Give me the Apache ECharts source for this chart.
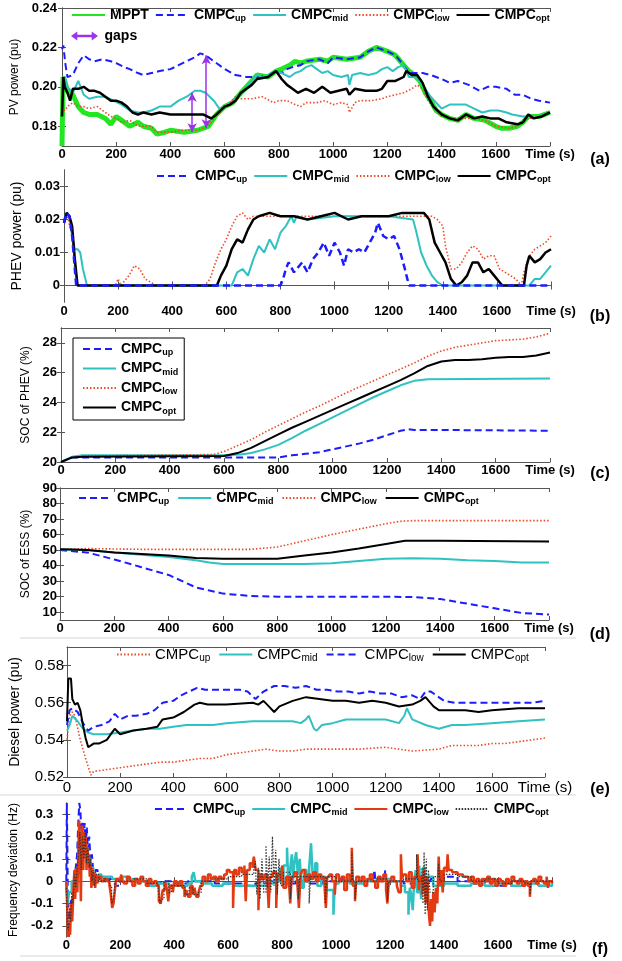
<!DOCTYPE html>
<html>
<head>
<meta charset="utf-8">
<script src="https://cdn.jsdelivr.net/npm/echarts@6/dist/echarts.min.js"></script>
<style>
  html, body { margin: 0; background: #fff; }
  #chart { width: 622px; height: 961px; }
</style>
</head>
<body>
<div id="chart"></div>
<script>
// ---- data: [time (s), value] ----
// (a) PV power (pu)
const pvMppt = [[0,0.170],[4,0.205],[10,0.203],[20,0.198],[40,0.196],[60,0.190],[80,0.187],[100,0.186],[130,0.186],[160,0.184],[180,0.181],[200,0.185],[220,0.183],[250,0.180],[280,0.182],[300,0.180],[330,0.179],[350,0.176],[380,0.177],[400,0.178],[450,0.177],[500,0.178],[540,0.180],[570,0.186],[600,0.190],[630,0.192],[660,0.197],[700,0.203],[720,0.206],[760,0.205],[790,0.208],[810,0.209],[840,0.211],[860,0.213],[880,0.212],[900,0.213],[950,0.214],[980,0.213],[1000,0.215],[1050,0.214],[1100,0.215],[1130,0.218],[1160,0.220],[1200,0.218],[1230,0.216],[1260,0.211],[1280,0.208],[1300,0.206],[1320,0.203],[1340,0.197],[1360,0.193],[1380,0.188],[1400,0.186],[1430,0.184],[1460,0.183],[1490,0.186],[1520,0.184],[1560,0.183],[1600,0.180],[1620,0.179],[1650,0.179],[1680,0.180],[1700,0.182],[1720,0.185],[1760,0.185],[1800,0.187]];
const pvUp = [[0,0.219],[5,0.221],[12,0.212],[20,0.205],[40,0.206],[60,0.212],[80,0.216],[100,0.214],[120,0.213],[150,0.214],[180,0.213],[200,0.212],[230,0.210],[250,0.209],[280,0.207],[300,0.206],[330,0.207],[360,0.208],[400,0.209],[430,0.211],[460,0.213],[490,0.215],[510,0.217],[530,0.216],[560,0.213],[600,0.209],[640,0.206],[680,0.205],[720,0.205],[760,0.206],[790,0.208],[810,0.207],[830,0.209],[850,0.210],[880,0.211],[900,0.213],[950,0.214],[980,0.212],[1000,0.215],[1050,0.214],[1100,0.215],[1130,0.218],[1160,0.220],[1200,0.218],[1230,0.216],[1260,0.211],[1280,0.207],[1300,0.207],[1330,0.207],[1360,0.206],[1400,0.204],[1430,0.202],[1460,0.203],[1500,0.201],[1540,0.198],[1570,0.200],[1600,0.200],[1640,0.199],[1670,0.196],[1700,0.196],[1730,0.194],[1760,0.193],[1800,0.192]];
const pvMid = [[0,0.196],[10,0.205],[20,0.200],[40,0.197],[60,0.203],[80,0.196],[100,0.194],[130,0.195],[160,0.195],[190,0.193],[220,0.191],[250,0.188],[280,0.187],[300,0.187],[330,0.188],[360,0.190],[400,0.190],[430,0.193],[460,0.195],[490,0.198],[510,0.198],[530,0.197],[560,0.193],[580,0.189],[600,0.190],[620,0.192],[660,0.196],[700,0.203],[720,0.206],[740,0.205],[760,0.206],[790,0.208],[810,0.207],[840,0.205],[860,0.207],[880,0.208],[900,0.210],[920,0.211],[940,0.209],[960,0.207],[980,0.208],[1000,0.206],[1030,0.205],[1055,0.206],[1060,0.201],[1070,0.206],[1100,0.207],[1130,0.206],[1160,0.207],[1180,0.209],[1200,0.210],[1220,0.208],[1240,0.210],[1260,0.211],[1280,0.205],[1300,0.205],[1320,0.203],[1340,0.199],[1360,0.195],[1380,0.192],[1400,0.189],[1430,0.191],[1460,0.191],[1490,0.191],[1520,0.189],[1550,0.187],[1580,0.188],[1610,0.188],[1640,0.187],[1660,0.186],[1700,0.185],[1720,0.185],[1760,0.185],[1800,0.187]];
const pvLow = [[0,0.190],[10,0.188],[20,0.190],[40,0.192],[60,0.190],[80,0.190],[100,0.189],[130,0.190],[160,0.187],[180,0.185],[200,0.184],[220,0.182],[250,0.183],[280,0.180],[300,0.180],[330,0.180],[350,0.177],[380,0.177],[400,0.177],[450,0.178],[500,0.178],[540,0.180],[560,0.184],[600,0.190],[620,0.192],[640,0.195],[660,0.194],[700,0.194],[740,0.195],[780,0.192],[800,0.193],[830,0.193],[860,0.191],[880,0.190],[900,0.192],[940,0.192],[970,0.193],[1000,0.191],[1030,0.192],[1055,0.191],[1060,0.187],[1080,0.192],[1100,0.193],[1140,0.193],[1180,0.194],[1200,0.195],[1230,0.196],[1260,0.197],[1290,0.199],[1310,0.201],[1330,0.199],[1350,0.193],[1380,0.188],[1400,0.185],[1430,0.184],[1460,0.184],[1500,0.184],[1530,0.184],[1560,0.183],[1600,0.180],[1650,0.179],[1680,0.180],[1720,0.184],[1760,0.185],[1800,0.187]];
const pvOpt = [[0,0.185],[5,0.205],[10,0.200],[20,0.197],[30,0.193],[40,0.199],[60,0.199],[80,0.200],[100,0.198],[120,0.198],[140,0.197],[160,0.195],[180,0.193],[200,0.193],[220,0.192],[240,0.190],[260,0.187],[280,0.186],[300,0.187],[330,0.186],[360,0.187],[400,0.186],[430,0.186],[460,0.186],[500,0.186],[520,0.186],[550,0.184],[570,0.186],[600,0.190],[620,0.191],[640,0.193],[660,0.197],[700,0.201],[720,0.204],[760,0.205],[790,0.208],[810,0.204],[830,0.201],[850,0.199],[870,0.197],[900,0.199],[930,0.197],[960,0.200],[990,0.197],[1020,0.198],[1050,0.199],[1060,0.196],[1080,0.199],[1120,0.198],[1160,0.198],[1180,0.199],[1200,0.203],[1230,0.203],[1260,0.205],[1270,0.208],[1290,0.206],[1310,0.206],[1330,0.202],[1350,0.195],[1370,0.190],[1400,0.186],[1430,0.184],[1460,0.183],[1490,0.186],[1520,0.184],[1550,0.185],[1580,0.184],[1610,0.184],[1640,0.182],[1680,0.181],[1700,0.182],[1720,0.186],[1740,0.184],[1770,0.185],[1800,0.187]];
// gap arrows: [time, from, to]
const pvGaps = [[480,0.177,0.197],[532,0.179,0.216]];

// (b) PHEV power (pu)
const phUp = [[0,0.019],[10,0.022],[20,0.021],[30,0.015],[40,0.005],[45,0],[800,0],[810,0.002],[820,0.005],[830,0.007],[850,0.004],[870,0.006],[880,0.007],[900,0.004],[920,0.008],[940,0.010],[960,0.013],[980,0.009],[1000,0.013],[1020,0.010],[1035,0.006],[1050,0.011],[1070,0.010],[1090,0.011],[1110,0.010],[1130,0.013],[1150,0.016],[1160,0.019],[1180,0.015],[1200,0.014],[1220,0.015],[1240,0.011],[1260,0.005],[1275,0],[1800,0]];
const phMid = [[0,0.020],[10,0.022],[20,0.021],[30,0.015],[40,0.011],[50,0.011],[60,0.010],[70,0.005],[85,0],[620,0],[640,0.004],[660,0.005],[680,0.003],[700,0.008],[720,0.012],[740,0.010],[760,0.014],[780,0.011],[800,0.016],[820,0.018],[840,0.021],[850,0.019],[860,0.021],[900,0.020],[1000,0.021],[1100,0.021],[1200,0.021],[1290,0.020],[1300,0.017],[1320,0.010],[1340,0.006],[1360,0.003],[1380,0.001],[1400,0],[1720,0],[1740,0.002],[1760,0.002],[1780,0.004],[1800,0.006]];
const phLow = [[0,0.019],[10,0.022],[30,0.015],[40,0.005],[50,0],[190,0],[200,0.002],[210,0],[240,0.003],[260,0.006],[280,0.005],[300,0.002],[320,0.001],[340,0],[520,0],[540,0.002],[560,0.007],[580,0.011],[600,0.014],[620,0.018],[640,0.021],[660,0.022],[680,0.020],[700,0.021],[800,0.021],[1000,0.021],[1200,0.021],[1340,0.021],[1360,0.021],[1380,0.020],[1400,0.018],[1410,0.012],[1430,0.005],[1450,0.005],[1470,0.007],[1490,0.010],[1510,0.012],[1530,0.011],[1550,0.008],[1570,0.009],[1590,0.009],[1610,0.005],[1630,0.004],[1650,0.003],[1670,0.002],[1690,0.000],[1700,0.004],[1720,0.009],[1740,0.011],[1760,0.012],[1780,0.013],[1800,0.015]];
const phOpt = [[0,0.019],[10,0.022],[20,0.021],[30,0.018],[40,0.008],[50,0],[565,0],[570,0.001],[580,0.003],[600,0.006],[620,0.011],[640,0.014],[660,0.013],[680,0.017],[700,0.020],[720,0.021],[760,0.022],[800,0.021],[850,0.021],[900,0.020],[950,0.021],[1000,0.022],[1050,0.020],[1100,0.021],[1150,0.021],[1200,0.021],[1250,0.022],[1300,0.022],[1330,0.022],[1350,0.020],[1370,0.013],[1390,0.010],[1410,0.007],[1430,0.002],[1450,0],[1470,0.001],[1490,0.003],[1510,0.007],[1530,0.007],[1550,0.004],[1570,0.005],[1590,0.003],[1610,0.001],[1620,0],[1700,0],[1710,0.006],[1720,0.009],[1740,0.007],[1760,0.008],[1780,0.010],[1800,0.011]];

// (c) SOC of PHEV (%)
const socPUp = [[0,20.0],[40,20.3],[100,20.3],[600,20.3],[700,20.3],[800,20.3],[850,20.45],[900,20.55],[950,20.65],[1000,20.85],[1050,21.05],[1100,21.25],[1150,21.5],[1200,21.8],[1250,22.1],[1280,22.2],[1300,22.15],[1400,22.15],[1800,22.1]];
const socPMid = [[0,20.0],[40,20.35],[80,20.45],[600,20.45],[660,20.5],[700,20.6],[750,20.85],[800,21.15],[850,21.6],[900,22.1],[950,22.55],[1000,23.0],[1050,23.45],[1100,23.9],[1150,24.35],[1200,24.75],[1250,25.15],[1300,25.45],[1350,25.55],[1800,25.6]];
const socPLow = [[0,20.0],[40,20.3],[80,20.4],[560,20.5],[600,20.7],[650,21.1],[700,21.5],[750,22.0],[800,22.45],[850,22.9],[900,23.35],[950,23.75],[1000,24.2],[1050,24.65],[1100,25.05],[1150,25.45],[1200,25.85],[1250,26.25],[1300,26.65],[1350,27.1],[1400,27.45],[1450,27.7],[1500,27.85],[1550,28.0],[1600,28.15],[1650,28.2],[1700,28.25],[1750,28.4],[1800,28.65]];
const socPOpt = [[0,20.0],[40,20.3],[80,20.35],[600,20.4],[650,20.6],[700,20.95],[750,21.4],[800,21.85],[850,22.3],[900,22.7],[950,23.1],[1000,23.5],[1050,23.9],[1100,24.3],[1150,24.7],[1200,25.1],[1250,25.5],[1300,25.95],[1350,26.45],[1400,26.75],[1450,26.85],[1500,26.85],[1550,26.9],[1600,27.0],[1650,27.05],[1700,27.05],[1750,27.15],[1800,27.35]];

// (d) SOC of ESS (%)
const socEUp = [[0,50],[100,48.5],[200,44],[300,39],[400,34],[450,30],[500,26],[550,24],[600,22],[700,20.5],[800,20],[1000,20],[1200,20],[1300,19.8],[1400,18.5],[1500,15.5],[1600,12.5],[1700,9.5],[1800,8.5]];
const socEMid = [[0,50.5],[100,50],[200,48.5],[300,47],[400,45.5],[500,43.5],[550,42],[600,41],[700,41],[800,41],[900,41],[1000,41.5],[1100,43],[1200,44.5],[1300,44.8],[1400,44.5],[1500,43.5],[1600,43],[1700,42],[1800,42]];
const socELow = [[0,50.5],[100,51],[300,50.5],[500,50.5],[700,50.5],[800,52],[900,56],[1000,60],[1100,63.5],[1200,67],[1250,68.5],[1300,69],[1800,69]];
const socEOpt = [[0,50.5],[100,50],[200,48.5],[300,47.5],[400,46.5],[500,45],[600,44.5],[800,44.5],[900,46.5],[1000,48.5],[1100,51],[1200,54],[1270,56],[1400,56],[1800,55.5]];

// (e) Diesel power (pu)
const dsUp = [[0,0.540],[10,0.553],[20,0.555],[30,0.553],[50,0.540],[70,0.530],[90,0.521],[100,0.523],[150,0.524],[200,0.525],[250,0.526],[300,0.527],[350,0.528],[400,0.528],[450,0.529],[500,0.530],[550,0.530],[600,0.532],[650,0.533],[700,0.534],[750,0.535],[800,0.534],[850,0.534],[900,0.535],[950,0.535],[1000,0.535],[1100,0.535],[1200,0.536],[1250,0.535],[1300,0.534],[1400,0.535],[1450,0.537],[1500,0.537],[1550,0.537],[1600,0.538],[1650,0.538],[1700,0.539],[1750,0.540],[1800,0.541]];
const dsMid = [[0,0.545],[10,0.548],[20,0.553],[40,0.550],[60,0.546],[80,0.544],[100,0.543],[150,0.543],[200,0.544],[250,0.545],[300,0.546],[350,0.546],[400,0.547],[450,0.548],[500,0.548],[550,0.548],[600,0.549],[700,0.550],[800,0.550],[850,0.550],[880,0.549],[900,0.551],[910,0.553],[930,0.546],[940,0.545],[960,0.548],[1000,0.549],[1050,0.551],[1100,0.551],[1150,0.551],[1200,0.551],[1250,0.549],[1270,0.553],[1280,0.557],[1300,0.551],[1350,0.548],[1400,0.546],[1450,0.548],[1500,0.548],[1600,0.549],[1700,0.550],[1800,0.551]];
const dsLow = [[0,0.548],[10,0.556],[20,0.557],[40,0.555],[60,0.549],[80,0.545],[100,0.547],[130,0.548],[160,0.550],[180,0.554],[200,0.551],[230,0.553],[260,0.553],[300,0.554],[330,0.556],[360,0.560],[400,0.561],[430,0.564],[460,0.566],[490,0.568],[520,0.567],[560,0.567],[600,0.567],[650,0.567],[680,0.566],[710,0.562],[740,0.566],[780,0.569],[820,0.569],[860,0.568],[900,0.569],[940,0.567],[980,0.567],[1020,0.566],[1060,0.566],[1100,0.565],[1140,0.566],[1180,0.565],[1220,0.565],[1260,0.563],[1300,0.564],[1330,0.562],[1350,0.566],[1370,0.566],[1390,0.564],[1420,0.561],[1460,0.560],[1500,0.560],[1550,0.560],[1600,0.560],[1650,0.560],[1700,0.560],[1750,0.560],[1800,0.561]];
const dsOpt = [[0,0.550],[5,0.573],[15,0.573],[20,0.562],[30,0.559],[40,0.560],[50,0.556],[60,0.548],[70,0.541],[80,0.536],[100,0.538],[120,0.538],[150,0.540],[170,0.544],[180,0.546],[200,0.543],[250,0.545],[300,0.546],[340,0.547],[360,0.551],[400,0.552],[440,0.555],[480,0.559],[500,0.560],[530,0.559],[600,0.559],[700,0.560],[720,0.559],[740,0.561],[760,0.558],[780,0.555],[800,0.558],[850,0.561],[900,0.563],[950,0.562],[1000,0.561],[1050,0.561],[1100,0.560],[1150,0.561],[1200,0.560],[1250,0.558],[1300,0.559],[1330,0.561],[1350,0.563],[1380,0.558],[1400,0.556],[1500,0.556],[1550,0.555],[1600,0.556],[1700,0.557],[1800,0.557]];

// (f) Frequency deviation (Hz)
const fqUp = [[0,0.0],[2,0.35],[4,0.15],[6,-0.12],[9,-0.25],[13,-0.2],[17,-0.08],[21,-0.12],[25,-0.02],[30,0.02],[35,0.06],[40,0.12],[44,0.25],[48,0.35],[52,0.32],[56,0.22],[60,0.27],[64,0.2],[68,0.26],[72,0.16],[76,0.24],[80,0.14],[85,0.2],[90,0.09],[95,0.12],[100,0.04],[108,0.05],[116,0.01],[125,0.02],[140,0.0],[160,0.01],[180,-0.02],[200,0.01],[250,0.0],[300,-0.01],[350,0.0],[400,-0.01],[450,0.0],[500,0.0],[550,-0.01],[600,-0.01],[650,-0.02],[700,-0.01],[750,0.0],[800,-0.01],[850,0.0],[900,-0.01],[950,0.0],[1000,0.01],[1050,0.0],[1100,0.01],[1138,0.0],[1142,0.05],[1146,0.0],[1178,0.0],[1182,0.05],[1186,0.0],[1250,-0.01],[1300,0.0],[1350,0.01],[1400,0.02],[1450,0.0],[1500,-0.01],[1550,0.0],[1600,-0.02],[1650,0.0],[1700,-0.01],[1750,-0.02],[1800,-0.01]];
const fqMid = [[0,0.0],[5,-0.1],[10,-0.05],[20,0.0],[30,0.02],[40,0.05],[50,0.15],[60,0.2],[70,0.15],[80,0.1],[90,0.06],[100,0.03],[110,0.02],[120,0.03],[130,0.02],[150,0.02],[170,0.01],[200,0.02],[230,0.01],[260,0.0],[300,-0.02],[340,-0.01],[380,-0.02],[420,-0.02],[450,-0.01],[465,0.02],[472,0.04],[478,0.0],[500,-0.01],[540,-0.02],[580,-0.01],[620,-0.02],[660,-0.02],[700,-0.02],[740,-0.01],[770,0.0],[790,0.06],[797,-0.01],[805,0.07],[818,0.15],[823,-0.02],[830,0.06],[836,0.12],[840,0.0],[845,0.08],[852,0.13],[858,0.03],[865,0.1],[872,-0.03],[880,0.05],[890,0.0],[900,0.06],[907,0.17],[913,0.02],[922,0.08],[930,-0.02],[945,0.02],[960,-0.04],[990,-0.15],[995,-0.01],[1010,0.0],[1050,-0.01],[1100,0.0],[1150,0.01],[1200,0.0],[1240,-0.02],[1255,-0.05],[1268,-0.15],[1273,-0.03],[1278,-0.06],[1284,-0.13],[1289,0.0],[1295,0.05],[1300,-0.05],[1308,0.07],[1315,-0.08],[1322,0.06],[1330,-0.03],[1340,0.02],[1360,-0.02],[1400,-0.01],[1420,-0.01],[1450,-0.02],[1500,-0.01],[1550,-0.02],[1600,-0.01],[1650,-0.02],[1700,-0.01],[1750,-0.02],[1800,-0.01]];
const fqLow = [[0,0.0],[3,-0.1],[6,-0.25],[10,-0.2],[14,-0.24],[18,-0.1],[22,-0.18],[26,-0.05],[30,0.05],[33,-0.08],[37,0.06],[41,-0.05],[45,0.15],[48,0.27],[51,0.1],[54,-0.09],[57,0.2],[60,0.25],[63,0.05],[66,0.22],[69,0.12],[72,0.2],[75,0.05],[78,0.15],[81,0.08],[84,0.12],[87,0.02],[90,0.08],[93,-0.03],[96,0.06],[99,-0.02],[103,0.04],[107,-0.03],[111,0.03],[115,-0.01],[120,0.02],[130,0.0],[140,0.01],[150,0.0],[160,-0.02],[165,-0.06],[170,-0.12],[175,-0.1],[180,-0.04],[185,0.01],[195,0.0],[203,0.03],[208,0.0],[215,-0.01],[225,0.02],[235,0.0],[245,-0.02],[255,0.01],[265,-0.01],[275,0.02],[285,0.0],[295,-0.02],[305,0.01],[315,-0.01],[325,0.0],[335,-0.02],[343,-0.09],[350,-0.1],[357,-0.04],[365,0.0],[372,-0.03],[378,-0.09],[384,-0.02],[395,-0.05],[400,0.0],[410,-0.02],[420,0.0],[430,-0.03],[438,-0.07],[445,-0.04],[452,-0.07],[460,-0.02],[468,-0.06],[475,-0.03],[482,-0.07],[490,-0.05],[497,-0.02],[505,0.02],[515,0.0],[525,0.03],[535,0.01],[545,0.02],[555,0.0],[565,0.02],[575,0.01],[585,0.03],[595,0.05],[605,0.04],[618,-0.12],[622,0.05],[630,0.03],[640,0.06],[650,0.04],[660,0.07],[665,-0.09],[670,0.05],[680,0.08],[690,0.06],[695,0.11],[702,0.05],[712,-0.13],[716,0.03],[725,0.01],[735,0.03],[745,0.0],[750,-0.12],[755,0.02],[765,0.04],[778,-0.12],[782,0.03],[795,0.0],[800,0.07],[805,-0.03],[815,0.02],[825,0.0],[830,-0.1],[835,0.02],[845,0.04],[855,0.01],[862,-0.12],[868,0.03],[875,0.05],[885,0.0],[895,0.03],[905,0.01],[915,0.04],[925,0.0],[935,0.03],[945,0.01],[955,0.02],[962,-0.12],[967,0.02],[975,0.03],[985,0.0],[995,-0.06],[1000,0.03],[1010,0.0],[1020,0.02],[1030,-0.04],[1040,0.03],[1050,0.0],[1058,0.15],[1062,-0.02],[1070,-0.09],[1075,0.02],[1085,0.0],[1095,0.02],[1105,-0.02],[1115,0.01],[1125,0.03],[1135,0.0],[1145,-0.03],[1155,0.02],[1165,0.0],[1175,0.03],[1185,-0.04],[1190,-0.1],[1195,0.0],[1205,0.02],[1215,0.0],[1225,-0.02],[1232,-0.05],[1240,0.12],[1244,0.01],[1250,0.03],[1260,0.0],[1270,0.04],[1280,-0.03],[1290,0.02],[1302,0.12],[1306,-0.04],[1310,0.02],[1318,-0.06],[1325,0.05],[1332,-0.1],[1338,0.02],[1344,-0.15],[1348,-0.2],[1352,-0.08],[1356,-0.18],[1360,-0.05],[1365,-0.14],[1370,-0.03],[1375,-0.1],[1380,0.11],[1384,-0.02],[1390,0.05],[1395,-0.05],[1400,0.06],[1410,0.04],[1413,0.12],[1417,0.05],[1430,0.04],[1440,0.04],[1450,0.03],[1460,0.03],[1470,0.02],[1480,0.02],[1490,0.0],[1500,0.02],[1510,-0.01],[1520,0.01],[1530,-0.02],[1540,0.01],[1550,0.0],[1560,0.02],[1570,-0.01],[1580,0.01],[1590,-0.02],[1600,0.01],[1610,0.0],[1620,-0.02],[1630,0.01],[1640,-0.01],[1650,0.02],[1660,0.0],[1670,-0.01],[1680,0.01],[1690,-0.02],[1700,0.0],[1710,-0.02],[1718,-0.07],[1722,0.0],[1730,0.01],[1740,-0.01],[1750,0.02],[1760,0.0],[1770,-0.01],[1780,0.02],[1785,-0.03],[1790,0.0],[1800,-0.01]];
const fqOpt = [[0,-0.03],[4,-0.2],[8,-0.22],[12,-0.12],[16,-0.18],[20,-0.05],[25,-0.1],[30,0.03],[35,-0.03],[40,0.05],[45,0.12],[50,0.22],[55,0.05],[60,0.2],[65,0.1],[70,0.22],[75,0.08],[80,0.15],[85,0.06],[90,0.1],[95,0.0],[100,0.05],[105,-0.02],[110,0.03],[120,0.0],[140,0.01],[160,-0.02],[168,-0.1],[175,-0.08],[182,0.0],[200,0.0],[250,0.01],[300,-0.01],[340,-0.03],[347,-0.1],[354,-0.08],[362,0.0],[380,-0.05],[390,-0.02],[440,-0.06],[455,-0.03],[470,-0.06],[490,-0.05],[500,0.0],[550,0.01],[600,0.02],[650,0.03],[695,0.05],[700,0.09],[706,-0.06],[712,0.06],[718,-0.08],[725,0.1],[732,-0.05],[740,0.16],[746,-0.03],[752,0.11],[758,-0.05],[764,0.2],[770,-0.02],[776,0.14],[782,-0.06],[788,0.1],[795,-0.02],[805,0.04],[830,-0.08],[836,0.02],[860,-0.08],[866,0.02],[900,-0.1],[905,0.02],[960,-0.1],[966,0.02],[1000,0.0],[1058,0.13],[1062,0.0],[1070,-0.08],[1076,0.0],[1150,0.01],[1190,-0.09],[1195,0.0],[1250,0.01],[1298,0.12],[1302,0.0],[1318,0.06],[1322,-0.1],[1326,0.13],[1330,-0.15],[1334,0.1],[1338,-0.13],[1342,0.05],[1348,-0.05],[1360,0.02],[1380,0.08],[1385,0.0],[1400,0.03],[1450,0.02],[1500,0.0],[1550,0.01],[1600,-0.01],[1650,0.0],[1700,-0.01],[1718,-0.06],[1722,0.0],[1800,-0.01]];

// ---- styles ----
const FONT = '"Liberation Sans", Arial, sans-serif';
const BLUE = '#1c1cff', CYAN = '#30c2c2', RED = '#ec4a26', GREEN = '#22e622', PURPLE = '#9b34e8';
const AXIS = '#555';

const lineStyles = {
  mppt: { color: GREEN, width: 5, type: 'solid' },
  blueDash: { color: BLUE, width: 2, type: [7, 4] },
  cyan: { color: CYAN, width: 2, type: 'solid' },
  redDot: { color: RED, width: 1.6, type: [1.5, 2] },
  black: { color: '#000', width: 2.5, type: 'solid' }
};

// panel layout: box in pixels, y axis range and ticks
const panels = [
  { grid: { left: 62, top: 8, width: 488, height: 138 }, min: 0.17, max: 0.24, ticks: [0.18, 0.2, 0.22, 0.24],
    fmt: v => v.toFixed(2), name: 'PV power (pu)', nameSize: 12, nameGap: 35, yMargin: 5, xMargin: 2, size: 13, bold: true },
  { grid: { left: 64, top: 170, width: 487, height: 132 }, min: -0.005, max: 0.035, ticks: [0, 0.01, 0.02, 0.03],
    fmt: v => v === 0 ? '0' : v.toFixed(2), name: 'PHEV power (pu)', nameSize: 14, nameGap: 35, yMargin: 4, xMargin: 3, size: 13, bold: true },
  { grid: { left: 61, top: 328, width: 489, height: 134 }, min: 20, max: 29, ticks: [20, 22, 24, 26, 28],
    fmt: v => String(v), name: 'SOC of PHEV (%)', nameSize: 12, nameGap: 27, yMargin: 4, xMargin: 2, size: 13, bold: true },
  { grid: { left: 60, top: 488, width: 489, height: 132 }, min: 5, max: 90, ticks: [10, 20, 30, 40, 50, 60, 70, 80, 90],
    fmt: v => String(v), name: 'SOC of ESS (%)', nameSize: 12, nameGap: 26, yMargin: 3, xMargin: 2, size: 13, bold: true },
  { grid: { left: 65, top: 647, width: 480, height: 130 }, min: 0.52, max: 0.59, ticks: [0.52, 0.54, 0.56, 0.58],
    fmt: v => v.toFixed(2), name: 'Diesel power (pu)', nameSize: 14, nameGap: 45, yMargin: 3, xMargin: 3, size: 15, bold: false },
  { grid: { left: 64, top: 803, width: 488, height: 134 }, min: -0.25, max: 0.35, ticks: [-0.2, -0.1, 0, 0.1, 0.2, 0.3],
    fmt: v => v === 0 ? '0' : v.toFixed(1), name: 'Frequency deviation (Hz)', nameSize: 12, nameGap: 36, yMargin: 13, xMargin: 2, size: 13, bold: true }
];

const grids = [], xAxes = [], yAxes = [];
panels.forEach((p, i) => {
  grids.push(p.grid);
  const weight = p.bold ? 'bold' : 'normal';
  const tick = { show: true, inside: true, length: 4, lineStyle: { color: AXIS } };
  const line = { show: true, lineStyle: { color: AXIS, width: 1 } };
  const xBase = { gridIndex: i, type: 'value', min: 0, max: 1800, interval: 200, splitLine: { show: false }, axisLine: line, axisTick: tick };
  xAxes.push(Object.assign({}, xBase, {
    position: 'bottom',
    axisLabel: { color: '#000', fontFamily: FONT, fontSize: p.size, fontWeight: weight, margin: p.xMargin,
      formatter: v => v === 1800 ? 'Time (s)' : String(v) }
  }));
  xAxes.push(Object.assign({}, xBase, { position: 'top', axisLabel: { show: false } }));
  const yBase = { gridIndex: i, type: 'value', min: p.min, max: p.max, splitLine: { show: false }, axisLine: line,
    axisTick: Object.assign({}, tick, { customValues: p.ticks }) };
  yAxes.push(Object.assign({}, yBase, {
    position: 'left',
    name: p.name, nameLocation: 'middle', nameGap: p.nameGap,
    nameTextStyle: { fontFamily: FONT, fontSize: p.nameSize, color: '#000' },
    axisLabel: { customValues: p.ticks, color: '#000', fontFamily: FONT, fontSize: p.size, fontWeight: weight, margin: p.yMargin, formatter: p.fmt }
  }));
  yAxes.push(Object.assign({}, yBase, { position: 'right', axisLabel: { show: false } }));
});

// itemStyle opacity 0 hides point symbols (and legend symbols), the line keeps its own style
function line(panel, name, data, style, z, step) {
  return {
    type: 'line', name: name, data: data, xAxisIndex: panel * 2, yAxisIndex: panel * 2,
    symbol: 'none', showSymbol: false, symbolSize: 0, animation: false, z: z || 2, step: step || false,
    lineStyle: { color: style.color, width: style.width, type: style.type, opacity: 1 },
    itemStyle: { color: style.color, opacity: 0 }
  };
}

const series = [
  line(0, 'a-MPPT', pvMppt, lineStyles.mppt, 1),
  line(0, 'a-up', pvUp, lineStyles.blueDash, 2),
  line(0, 'a-mid', pvMid, lineStyles.cyan, 3),
  line(0, 'a-low', pvLow, lineStyles.redDot, 4),
  line(0, 'a-opt', pvOpt, lineStyles.black, 5),
  {
    type: 'line', name: 'a-gaps', data: [], xAxisIndex: 0, yAxisIndex: 0, symbol: 'none',
    itemStyle: { color: PURPLE }, lineStyle: { color: PURPLE },
    markLine: {
      silent: true, animation: false, symbol: ['arrow', 'arrow'], symbolSize: [7, 9],
      label: { show: false }, lineStyle: { color: PURPLE, width: 1.5, type: 'solid' },
      data: pvGaps.map(g => [{ coord: [g[0], g[1]] }, { coord: [g[0], g[2]] }])
    }
  },
  line(1, 'b-low', phLow, lineStyles.redDot, 2),
  line(1, 'b-mid', phMid, lineStyles.cyan, 3),
  line(1, 'b-opt', phOpt, lineStyles.black, 4),
  line(1, 'b-up', phUp, Object.assign({}, lineStyles.blueDash, { width: 2.5 }), 5),
  line(2, 'c-up', socPUp, lineStyles.blueDash, 2),
  line(2, 'c-mid', socPMid, lineStyles.cyan, 3),
  line(2, 'c-low', socPLow, lineStyles.redDot, 4),
  line(2, 'c-opt', socPOpt, Object.assign({}, lineStyles.black, { width: 2 }), 5),
  line(3, 'd-up', socEUp, lineStyles.blueDash, 2),
  line(3, 'd-mid', socEMid, lineStyles.cyan, 3),
  line(3, 'd-low', socELow, lineStyles.redDot, 4),
  line(3, 'd-opt', socEOpt, Object.assign({}, lineStyles.black, { width: 2 }), 5),
  line(4, 'e-up', dsUp, lineStyles.redDot, 2),
  line(4, 'e-mid', dsMid, lineStyles.cyan, 3),
  line(4, 'e-low', dsLow, lineStyles.blueDash, 4),
  line(4, 'e-opt', dsOpt, Object.assign({}, lineStyles.black, { width: 2 }), 5),
  line(5, 'f-up', fqUp, lineStyles.blueDash, 2, 'end'),
  line(5, 'f-mid', fqMid, Object.assign({}, lineStyles.cyan, { width: 2.5 }), 3, 'end'),
  line(5, 'f-low', fqLow, { color: '#e33a12', width: 2.5, type: 'solid' }, 4, 'end'),
  line(5, 'f-opt', fqOpt, { color: '#333', width: 1.2, type: [1.5, 1.5] }, 5, 'end')
];

function legendText(name) {
  const key = name.split('-')[1];
  return key === 'MPPT' || key === 'gaps' ? '{b|' + key + '}' : '{b|CMPC}{s|' + key + '}';
}
function legendBox(names, opts, bold, size) {
  const w = bold ? 'bold' : 'normal';
  const sub = Math.round(size * 0.66);
  return Object.assign({
    data: names, orient: 'horizontal', padding: 0, itemGap: 6, itemWidth: 33, itemHeight: 12,
    selectedMode: false, formatter: legendText,
    textStyle: {
      color: '#000', fontFamily: FONT, fontSize: size, fontWeight: w,
      rich: {
        b: { fontFamily: FONT, fontSize: size, fontWeight: w, color: '#000' },
        s: { fontFamily: FONT, fontSize: sub, fontWeight: w, color: '#000', padding: [Math.round(size * 0.55), 0, 0, 0] }
      }
    }
  }, opts);
}

const gapIcon = 'path://M0,5L7,0L7,3.5L23,3.5L23,0L30,5L23,10L23,6.5L7,6.5L7,10Z';

const legends = [
  legendBox(['a-MPPT', 'a-up', 'a-mid', 'a-low', 'a-opt'], { left: 71, top: 8 }, true, 14),
  legendBox([{ name: 'a-gaps', icon: gapIcon, itemStyle: { color: PURPLE, opacity: 1 } }], { left: 71, top: 29, itemHeight: 9, itemWidth: 30 }, true, 14),
  legendBox(['b-up', 'b-mid', 'b-low', 'b-opt'], { left: 156, top: 169 }, true, 14),
  legendBox(['c-up', 'c-mid', 'c-low', 'c-opt'], {
    left: 73, top: 338, orient: 'vertical', padding: [4, 6, 4, 9], itemGap: 4,
    borderColor: '#000', borderWidth: 1
  }, true, 14),
  legendBox(['d-up', 'd-mid', 'd-low', 'd-opt'], { left: 78, top: 491, itemGap: 8 }, true, 14),
  legendBox(['e-up', 'e-mid', 'e-low', 'e-opt'], { left: 116, top: 647, itemGap: 8 }, false, 15),
  legendBox(['f-up', 'f-mid', 'f-low', 'f-opt'], { left: 154, top: 802 }, true, 14)
];

const panelTags = [['(a)', 160], ['(b)', 317], ['(c)', 474], ['(d)', 635], ['(e)', 790], ['(f)', 950]];
const graphics = panelTags.map(t => ({
  type: 'text', x: 600, y: t[1], silent: true,
  style: { text: t[0], fontFamily: FONT, fontSize: 16, fontWeight: 'bold', fill: '#000', align: 'center', verticalAlign: 'middle' }
}));
[[20, 638, 576], [0, 795, 576], [20, 956, 576]].forEach(s => {
  graphics.push({ type: 'line', silent: true, shape: { x1: s[0], y1: s[1], x2: s[2], y2: s[1] }, style: { stroke: '#d6d6d6', lineWidth: 1 } });
});

const chart = echarts.init(document.getElementById('chart'), null, { renderer: 'canvas' });
chart.setOption({
  animation: false,
  backgroundColor: '#fff',
  grid: grids,
  xAxis: xAxes,
  yAxis: yAxes,
  legend: legends,
  series: series,
  graphic: graphics
});
</script>
</body>
</html>
